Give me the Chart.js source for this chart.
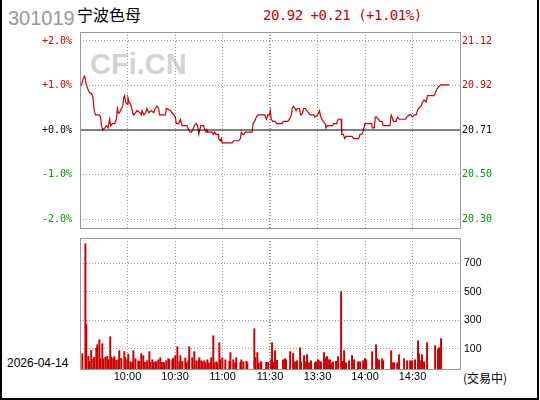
<!DOCTYPE html>
<html>
<head>
<meta charset="utf-8">
<script src="https://cdn.jsdelivr.net/npm/chart.js@4.4.0/dist/chart.umd.min.js"></script>
<style>
html, body { margin: 0; padding: 0; background: #fff; }
body { width: 540px; height: 400px; position: relative; overflow: hidden; }
#frame { position: absolute; left: 0; top: -2px; width: 535px; height: 398px; border: 2px solid #000; }
.t { position: absolute; white-space: nowrap; }
#code { left: 8px; top: 8px; font: 20px/20px 'Liberation Sans'; color: #999; }
#name { left: 77px; top: 6px; font: 16px/16px 'Noto Sans CJK SC'; color: #000; }
#quote { left: 263px; top: 8px; font: 14px/14px 'DejaVu Sans Mono'; letter-spacing: -0.5px; color: #cc0000; }
#mark { left: 90px; top: 50px; font: bold 29px/29px 'Liberation Sans'; color: #d3d3d3; }
#date { left: 7px; top: 357px; font: 12px/12px 'Liberation Sans'; color: #000; }
#state { left: 463px; top: 372px; font: 12px/12px 'Noto Sans CJK SC'; color: #000; }
canvas { position: absolute; left: 0; }
#c1 { top: 0; }
#c2 { top: 236px; }
</style>
</head>
<body>
<div id="frame"></div>
<div class="t" id="code">301019</div>
<div class="t" id="name">宁波色母</div>
<div class="t" id="quote">20.92 +0.21 (+1.01%)</div>
<div class="t" id="mark">CFi.CN</div>
<div class="t" id="date">2026-04-14</div>
<div class="t" id="state">(交易中)</div>
<canvas id="c1" width="540" height="236"></canvas>
<canvas id="c2" width="540" height="164"></canvas>
<script>
// minutes since 9:30 (lunch break removed), last price
var prevClose = 20.71;
var priceMinutes = [
  0, 1, 2, 3, 4, 5.5, 6.5, 7.2, 8.2, 8.8,
  9.7, 12, 13, 13.5, 14.5, 15.6, 16.6, 17.7, 18.7, 19.4,
  20.4, 21.9, 23, 23.6, 24.2, 25, 26.1, 27, 27.6, 28.2,
  28.8, 29.7, 30.3, 31, 32, 33, 33.7, 35, 36, 38,
  38.7, 39.2, 40.4, 41.5, 42.3, 43.4, 45, 46.5, 47.6, 48.6,
  49.7, 50.3, 53.9, 54.5, 57.3, 58.1, 59.2, 60.2, 60.8, 61.3,
  62.3, 63.4, 64.4, 67.6, 68.7, 69.7, 70.3, 71.2, 72.2, 73.3,
  74.3, 75, 75.6, 76.4, 78.1, 78.8, 79.6, 80.2, 80.9, 83.4,
  84.2, 85.1, 85.9, 87.2, 87.6, 88.6, 89.3, 89.7, 96, 97.1,
  100.2, 101.3, 101.9, 102.8, 103.4, 104.5, 108.7, 109.3, 110.3, 111.4,
  112.4, 116.7, 117.7, 118.6, 119.6, 120.2, 120.8, 121.7, 123.2, 124.2,
  127.6, 128.4, 131.2, 132.3, 133.5, 134, 134.8, 135.8, 136.5, 137.1,
  138.6, 139.3, 139.9, 140.6, 141.2, 142.3, 143.2, 144.4, 145.3, 147.6,
  148.3, 150.2, 151.2, 151.8, 152.7, 153.7, 154.8, 155.4, 156, 159.6,
  160.2, 161.7, 162.3, 163.2, 164.9, 165.3, 166.3, 167.2, 168, 171.8,
  172.9, 176, 176.9, 178, 178.6, 179, 180, 184.2, 184.6, 185.9,
  186.5, 187.4, 188.4, 189.5, 190.6, 191.6, 195.8, 196.5, 197.1, 197.9,
  199.6, 200.5, 201.7, 205.7, 206.3, 208, 208.9, 209.9, 211, 212.3,
  213.1, 213.8, 215.3, 216.3, 217.3, 218.6, 219.4, 223.6, 224.3, 225.4,
  226.4, 227.9, 233.3
];
var priceValues = [
  20.91, 20.92, 20.95, 20.96, 20.92, 20.89, 20.88, 20.88, 20.86, 20.81,
  20.78, 20.78, 20.77, 20.73, 20.71, 20.72, 20.73, 20.72, 20.76, 20.73,
  20.74, 20.74, 20.76, 20.81, 20.79, 20.79, 20.81, 20.82, 20.86, 20.87,
  20.84, 20.83, 20.86, 20.84, 20.83, 20.80, 20.78, 20.79, 20.80, 20.79,
  20.78, 20.80, 20.78, 20.79, 20.81, 20.79, 20.80, 20.79, 20.81, 20.82,
  20.81, 20.78, 20.78, 20.81, 20.80, 20.79, 20.78, 20.77, 20.74, 20.74,
  20.74, 20.76, 20.73, 20.73, 20.71, 20.70, 20.70, 20.71, 20.73, 20.74,
  20.73, 20.69, 20.71, 20.73, 20.73, 20.71, 20.70, 20.71, 20.70, 20.70,
  20.69, 20.70, 20.69, 20.69, 20.67, 20.66, 20.67, 20.65, 20.65, 20.66,
  20.66, 20.67, 20.70, 20.69, 20.69, 20.70, 20.70, 20.74, 20.75, 20.77,
  20.78, 20.78, 20.76, 20.78, 20.78, 20.80, 20.76, 20.75, 20.75, 20.74,
  20.74, 20.75, 20.75, 20.76, 20.78, 20.81, 20.82, 20.81, 20.80, 20.81,
  20.81, 20.78, 20.78, 20.79, 20.81, 20.81, 20.80, 20.79, 20.78, 20.78,
  20.77, 20.78, 20.80, 20.78, 20.76, 20.75, 20.74, 20.72, 20.73, 20.73,
  20.74, 20.74, 20.75, 20.76, 20.76, 20.69, 20.69, 20.67, 20.68, 20.68,
  20.67, 20.67, 20.69, 20.69, 20.70, 20.71, 20.74, 20.74, 20.72, 20.72,
  20.77, 20.77, 20.76, 20.75, 20.75, 20.73, 20.73, 20.78, 20.77, 20.75,
  20.75, 20.77, 20.76, 20.76, 20.77, 20.78, 20.78, 20.77, 20.78, 20.78,
  20.80, 20.81, 20.82, 20.84, 20.85, 20.84, 20.87, 20.87, 20.88, 20.90,
  20.91, 20.92, 20.92
];

var volMinutes = [
  1.5, 3.4, 4.0, 5.3, 5.9, 7.1, 8.4, 9.0, 10.3, 10.9,
  12.2, 12.8, 14.1, 14.7, 16.0, 17.2, 17.9, 19.1, 19.8, 21.0,
  21.7, 22.9, 24.2, 24.8, 26.1, 28.0, 28.6, 29.9, 30.5, 31.8,
  33.0, 33.7, 35.0, 36.8, 37.5, 38.7, 40.0, 40.6, 41.9, 42.5,
  43.8, 44.4, 45.7, 46.3, 47.6, 48.2, 49.5, 50.7, 51.3, 52.5,
  53.2, 54.5, 55.8, 56.4, 58.3, 58.9, 60.2, 61.5, 62.8, 63.4,
  64.6, 66.5, 67.1, 68.4, 69.0, 70.9, 72.2, 73.5, 74.8, 75.4,
  76.6, 77.3, 78.5, 79.1, 80.4, 81.0, 82.3, 82.9, 84.2, 84.8,
  86.1, 86.7, 88.0, 88.6, 89.9, 91.8, 94.3, 95.0, 96.8, 98.0,
  98.7, 101.3, 101.9, 103.2, 105.1, 105.7, 110.1, 110.7, 112.0, 112.6,
  113.9, 114.5, 117.6, 118.8, 120.7, 121.3, 122.5, 123.2, 124.4, 128.2,
  129.5, 130.1, 132.7, 134.6, 135.2, 136.5, 137.1, 139.0, 139.6, 141.5,
  142.8, 143.4, 144.0, 145.3, 145.9, 148.4, 149.0, 150.3, 150.9, 152.2,
  154.1, 155.4, 156.0, 157.3, 157.9, 159.2, 159.8, 161.7, 163.0, 164.9,
  166.1, 166.8, 168.0, 169.9, 171.8, 173.1, 175.6, 176.9, 178.8, 180.0,
  180.7, 184.5, 187.0, 187.6, 188.9, 190.8, 191.4, 196.5, 197.7, 198.4,
  200.3, 201.5, 204.7, 206.6, 208.5, 209.7, 211.6, 213.5, 214.1, 215.4,
  216.0, 217.3, 219.2, 224.3, 226.1, 226.8, 228.0
];
var volValues = [
  65, 838, 269, 46, 11, 88, 27, 39, 105, 128,
  163, 30, 135, 27, 39, 46, 22, 184, 42, 30,
  44, 18, 22, 86, 32, 79, 37, 22, 62, 8,
  4, 86, 30, 15, 11, 65, 51, 4, 4, 15,
  79, 4, 22, 4, 8, 8, 22, 37, 4, 4,
  1, 15, 30, 22, 22, 34, 51, 114, 8, 51,
  11, 34, 1, 15, 114, 37, 79, 15, 15, 37,
  15, 8, 15, 1, 22, 1, 1, 37, 191, 1,
  8, 1, 142, 22, 37, 22, 11, 72, 22, 1,
  37, 4, 22, 8, 11, 1, 240, 37, 72, 1,
  1, 8, 4, 4, 22, 142, 4, 86, 18, 22,
  30, 22, 79, 65, 8, 8, 15, 107, 8, 51,
  8, 58, 1, 1, 15, 1, 8, 22, 15, 8,
  72, 37, 44, 22, 22, 1, 8, 11, 44, 501,
  11, 86, 1, 15, 51, 22, 8, 8, 15, 30,
  22, 79, 128, 30, 22, 30, 15, 86, 1, 1,
  1, 58, 30, 15, 15, 15, 22, 156, 65, 15,
  58, 8, 142, 121, 93, 107, 170
];

var pctTicks = [-2, -1, 0, 1, 2];
var pctLabels = ['-2.0%', '-1.0%', '+0.0%', '+1.0%', '+2.0%'];
var priceLabels = ['20.30', '20.50', '20.71', '20.92', '21.12'];
var timeTicks = [30, 60, 90, 120, 150, 180, 210];
var timeLabels = ['10:00', '10:30', '11:00', '11:30', '13:30', '14:00', '14:30'];
var volTicks = [100, 300, 500, 700];

var RED = '#cc0000', GREEN = '#009900', GRID = '#999999';
var pctRange = 2.2;
var volMin = -43, volMax = 878;

// time grid: the 11:30 / 13:00 join is drawn as a double line
var gridMinutes = [30, 60, 90, 119.6, 120.4, 150, 180, 210];

function fitWidth(w) {
    return function (s) { s.width = w; s.paddingTop = 0; s.paddingBottom = 0; };
}

var framePlugin = {
    id: 'frame',
    afterDraw: function (chart) {
        var a = chart.chartArea, ctx = chart.ctx;
        ctx.save();
        ctx.strokeStyle = GRID;
        ctx.lineWidth = 1;
        ctx.strokeRect(Math.round(a.left) + 0.5, Math.round(a.top) + 0.5,
            Math.round(a.right) - Math.round(a.left), Math.round(a.bottom) - Math.round(a.top));
        ctx.restore();
    }
};

var timeAxis = {
    type: 'linear',
    min: 0,
    max: 240,
    afterBuildTicks: function (s) { s.ticks = gridMinutes.map(function (v) { return { value: v }; }); },
    afterFit: function (s) { s.height = 0; s.paddingLeft = 0; s.paddingRight = 0; },
    ticks: { display: false },
    grid: { color: GRID, drawTicks: false },
    border: { display: false, dash: [1, 2] }
};

var pricePoints = priceMinutes.map(function (m, i) { return { x: m, y: priceValues[i] }; });

new Chart(document.getElementById('c1'), {
    type: 'line',
    data: {
        datasets: [{
            data: [{ x: 0, y: prevClose }, { x: 240, y: prevClose }],
            yAxisID: 'yp',
            borderColor: '#000',
            borderWidth: 1,
            pointRadius: 0
        }, {
            data: pricePoints,
            yAxisID: 'yp',
            borderColor: RED,
            borderWidth: 1.2,
            pointRadius: 0,
            tension: 0
        }]
    },
    options: {
        responsive: false,
        animation: false,
        layout: { padding: { top: 32, bottom: 8, left: 0, right: 0 } },
        plugins: { legend: { display: false }, tooltip: { enabled: false } },
        scales: {
            x: timeAxis,
            y: {
                position: 'left',
                min: -pctRange,
                max: pctRange,
                afterBuildTicks: function (s) { s.ticks = pctTicks.map(function (v) { return { value: v }; }); },
                afterFit: fitWidth(80),
                ticks: {
                    padding: 8,
                    font: { family: 'DejaVu Sans Mono', size: 10 },
                    color: function (c) { return c.tick.value > 0 ? RED : (c.tick.value < 0 ? GREEN : '#000'); },
                    callback: function (v, i) { return pctLabels[i]; }
                },
                grid: {
                    drawTicks: false,
                    color: function (c) { return c.tick && c.tick.value === 0 ? 'rgba(0,0,0,0)' : GRID; }
                },
                border: { display: false, dash: [1, 2] }
            },
            yp: {
                position: 'right',
                min: prevClose * (1 - pctRange / 100),
                max: prevClose * (1 + pctRange / 100),
                afterBuildTicks: function (s) {
                    s.ticks = pctTicks.map(function (v) { return { value: prevClose * (1 + v / 100) }; });
                },
                afterFit: fitWidth(80),
                ticks: {
                    padding: 2,
                    font: { family: 'DejaVu Sans Mono', size: 10 },
                    color: function (c) { var k = pctTicks[c.index]; return k > 0 ? RED : (k < 0 ? GREEN : '#000'); },
                    callback: function (v, i) { return priceLabels[i]; }
                },
                grid: { drawOnChartArea: false, drawTicks: false },
                border: { display: false }
            }
        }
    },
    plugins: [framePlugin]
});

var volPoints = volMinutes.map(function (m, i) { return { x: m, y: volValues[i] }; });
var volGrid = gridMinutes.concat([120]).sort(function (a, b) { return a - b; });

new Chart(document.getElementById('c2'), {
    type: 'bar',
    data: {
        datasets: [{
            data: volPoints,
            backgroundColor: RED,
            borderWidth: 0,
            barThickness: 1.3,
            base: volMin
        }]
    },
    options: {
        responsive: false,
        animation: false,
        layout: { padding: { top: 2, bottom: 0, left: 80, right: 0 } },
        plugins: { legend: { display: false }, tooltip: { enabled: false } },
        scales: {
            x: {
                type: 'linear',
                min: 0,
                max: 240,
                offset: false,
                afterBuildTicks: function (s) { s.ticks = volGrid.map(function (v) { return { value: v }; }); },
                afterFit: function (s) { s.height = 31; s.paddingLeft = 0; s.paddingRight = 0; },
                ticks: {
                    padding: 1,
                    maxRotation: 0,
                    autoSkip: false,
                    font: { family: 'Liberation Sans', size: 11 },
                    color: '#000',
                    callback: function (v) {
                        var k = timeTicks.indexOf(v);
                        return k < 0 ? '' : timeLabels[k];
                    }
                },
                grid: {
                    drawTicks: false,
                    offset: false,
                    color: function (c) { return c.tick && c.tick.value === 120 ? 'rgba(0,0,0,0)' : GRID; }
                },
                border: { display: false, dash: [1, 2] }
            },
            y: {
                position: 'right',
                min: volMin,
                max: volMax,
                afterBuildTicks: function (s) { s.ticks = volTicks.map(function (v) { return { value: v }; }); },
                afterFit: fitWidth(80),
                ticks: {
                    padding: 4,
                    font: { family: 'Liberation Sans', size: 10.5 },
                    color: '#000'
                },
                grid: { color: GRID, drawTicks: false },
                border: { display: false, dash: [1, 2] }
            }
        }
    },
    plugins: [framePlugin]
});
</script>
</body>
</html>
